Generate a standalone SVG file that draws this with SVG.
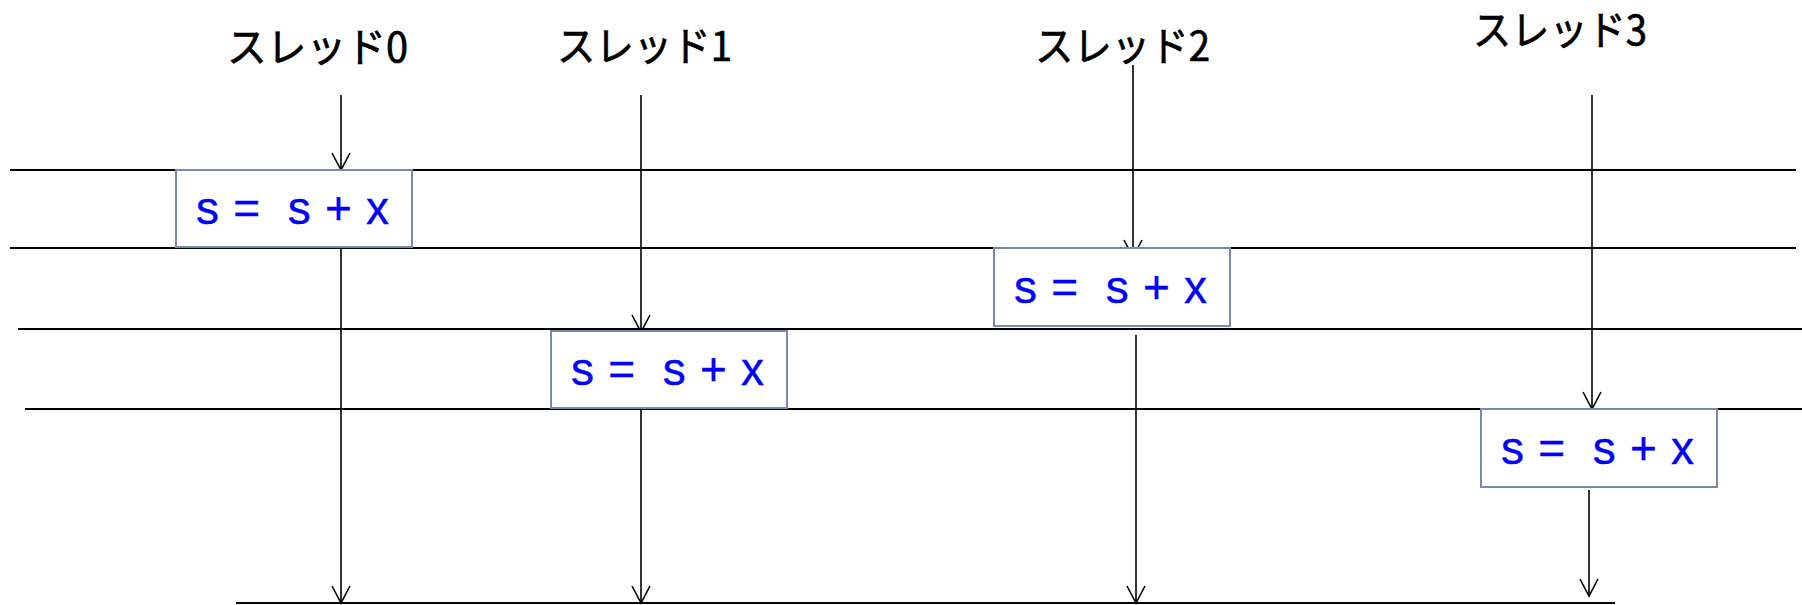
<svg xmlns="http://www.w3.org/2000/svg" width="1802" height="605" viewBox="0 0 1802 605">
<style>
.bg{fill:#ffffff}
.hl{stroke:#000;stroke-width:2;fill:none}
.ar{stroke:#000;stroke-width:1.6;fill:none;marker-end:url(#ah)}
.box{fill:#fff;stroke:#7c87aa;stroke-width:2}
.title{font-family:"Noto Sans CJK JP","Noto Sans",sans-serif;font-size:41px;fill:#000;stroke:#000;stroke-width:0.7}
.code{font-family:"Liberation Sans",Arial,sans-serif;font-size:46px;fill:#0000ff;stroke:#0000ff;stroke-width:0.4;white-space:pre}
</style>
<defs>
<marker id="ah" markerUnits="userSpaceOnUse" markerWidth="40" markerHeight="40" refX="0" refY="0" orient="auto" overflow="visible">
<path d="M-17,-9 L0,0 L-17,9" fill="none" stroke="#000" stroke-width="1.6"/>
</marker>
</defs>
<rect class="bg" x="0" y="0" width="1802" height="605"/>
<g id="lanes">
<line class="hl" x1="10" y1="170" x2="1796" y2="170"/>
<line class="hl" x1="10" y1="248" x2="1796" y2="248"/>
<line class="hl" x1="18" y1="329" x2="1802" y2="329"/>
<line class="hl" x1="25" y1="409" x2="1802" y2="409"/>
<line class="hl" x1="236" y1="603" x2="1615" y2="603"/>
</g>
<g id="connectors">
<line class="ar" x1="341" y1="95" x2="341" y2="170"/>
<line class="ar" x1="341" y1="246" x2="341" y2="603"/>
<line class="ar" x1="641" y1="95" x2="641" y2="332"/>
<line class="ar" x1="641" y1="409" x2="641" y2="603"/>
<line class="ar" x1="1133" y1="65" x2="1133" y2="257"/>
<line class="ar" x1="1136" y1="335" x2="1136" y2="603"/>
<line class="ar" x1="1592" y1="95" x2="1592" y2="409"/>
<line class="ar" x1="1589" y1="490" x2="1589" y2="596"/>
</g>
<g id="thread0">
<text class="title" x="227" y="62" textLength="181" lengthAdjust="spacingAndGlyphs">スレッド0</text>
</g>
<g id="thread1">
<text class="title" x="557" y="61" textLength="175" lengthAdjust="spacingAndGlyphs">スレッド1</text>
</g>
<g id="thread2">
<text class="title" x="1035" y="61" textLength="175" lengthAdjust="spacingAndGlyphs">スレッド2</text>
</g>
<g id="thread3">
<text class="title" x="1473" y="45" textLength="174" lengthAdjust="spacingAndGlyphs">スレッド3</text>
</g>
<g id="op0">
<rect class="box" x="176" y="170" width="236" height="77"/>
<text class="code" x="196" y="224" textLength="193" lengthAdjust="spacing">s =  s + x</text>
</g>
<g id="op1">
<rect class="box" x="551" y="331" width="236" height="77"/>
<text class="code" x="571" y="385" textLength="193" lengthAdjust="spacing">s =  s + x</text>
</g>
<g id="op2">
<rect class="box" x="994" y="248" width="236" height="78"/>
<text class="code" x="1014" y="303" textLength="193" lengthAdjust="spacing">s =  s + x</text>
</g>
<g id="op3">
<rect class="box" x="1481" y="409" width="236" height="78"/>
<text class="code" x="1501" y="464" textLength="193" lengthAdjust="spacing">s =  s + x</text>
</g>
</svg>
